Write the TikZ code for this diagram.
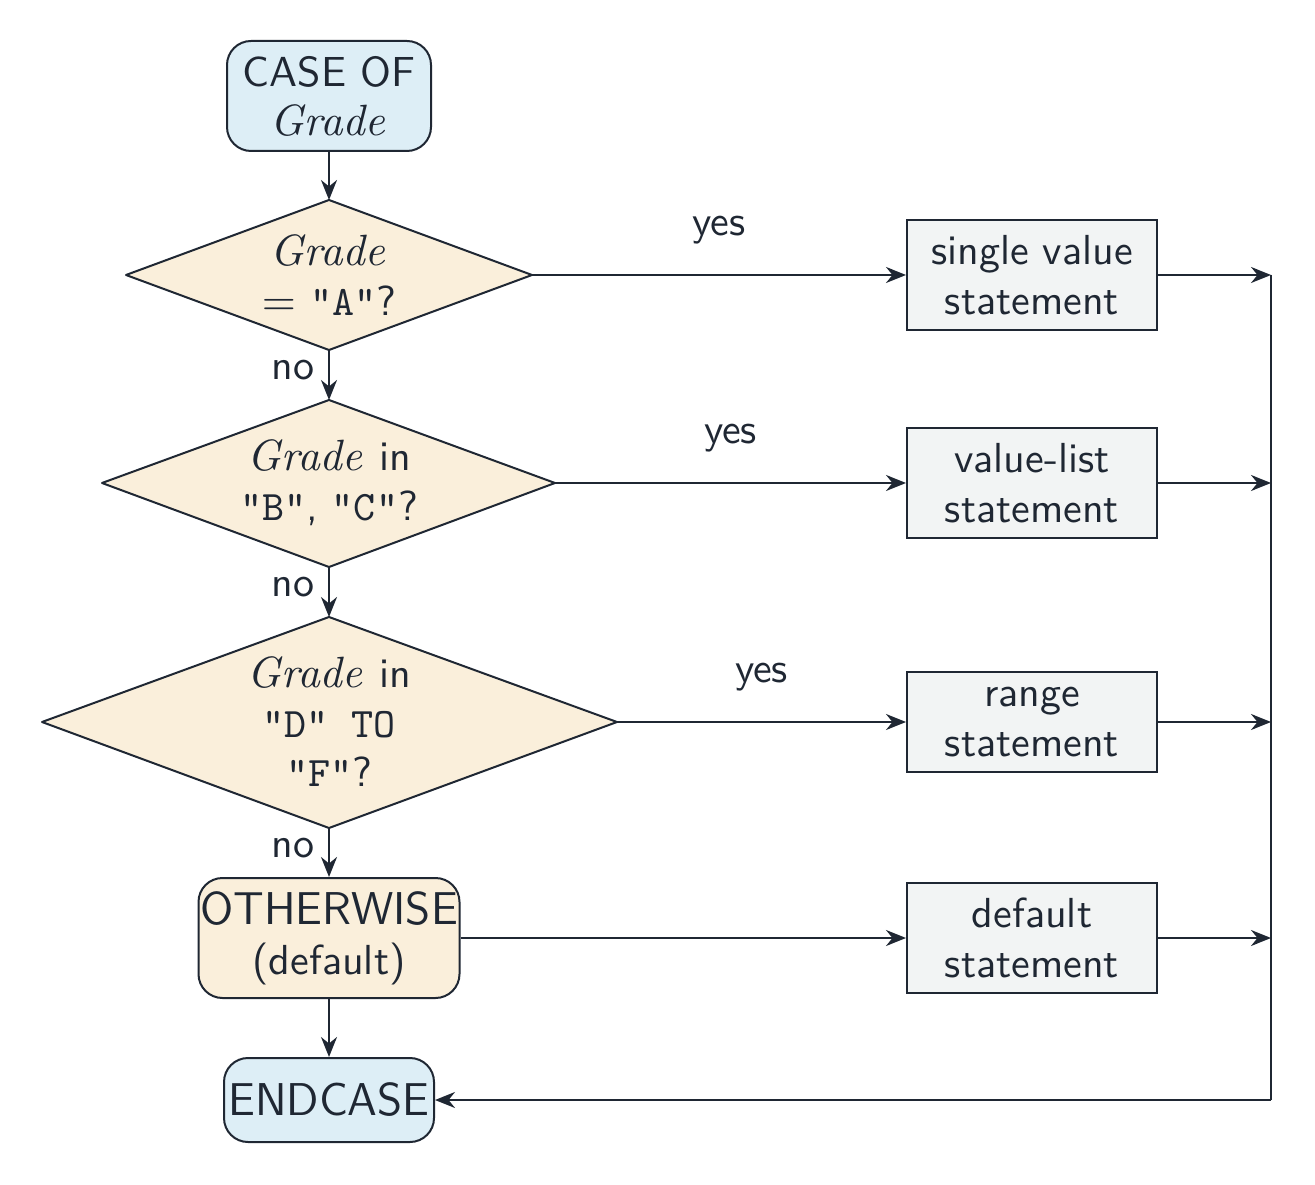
\documentclass[tikz,border=0pt]{standalone}
\usetikzlibrary{arrows.meta}
\definecolor{ink}{HTML}{1F2733}
\definecolor{bluef}{HTML}{DDEEF6}
\definecolor{tanf}{HTML}{FAEFDB}
\definecolor{grayf}{HTML}{F2F4F4}
\begin{document}
\begin{tikzpicture}[x=0.25pt,y=-0.25pt,
  every node/.style={font=\fontsize{10.5}{12.4}\selectfont\sffamily,text=ink,align=center},
  term/.style={draw=ink,line width=0.5pt,rounded corners=6pt,inner sep=0pt},
  stmt/.style={draw=ink,line width=0.5pt,fill=grayf,minimum width=62.5pt,inner sep=0pt},
  dia/.style={draw=ink,line width=0.5pt,fill=tanf,line join=round},
  arr/.style={draw=ink,line width=0.6pt,-{Stealth[length=5pt,width=4pt]}},
  ln/.style={draw=ink,line width=0.6pt}]
\useasboundingbox (0,0) rectangle (1315,1185);
% start
\node[term,fill=bluef,minimum width=51pt,minimum height=27.5pt] (start) at (329,96) {CASE OF\\$\mathit{Grade}$};
% diamonds
\coordinate (d1t) at (329,200); \coordinate (d1b) at (329,350); \coordinate (d1r) at (532,275);
\draw[dia] (126,275) -- (d1t) -- (d1r) -- (d1b) -- cycle;
\node (d1) at (329,275) {$\mathit{Grade}$\\$=$ \texttt{"A"}?};
\coordinate (d2t) at (329,400); \coordinate (d2b) at (329,567); \coordinate (d2r) at (555,483);
\draw[dia] (102,483) -- (d2t) -- (d2r) -- (d2b) -- cycle;
\node (d2) at (329,483) {$\mathit{Grade}$ in\\\texttt{"B"}, \texttt{"C"}?};
\coordinate (d3t) at (329,617); \coordinate (d3b) at (329,828); \coordinate (d3r) at (617,722);
\draw[dia] (42,722) -- (d3t) -- (d3r) -- (d3b) -- cycle;
\node (d3) at (329,722) {$\mathit{Grade}$ in\\\texttt{"D" TO}\\\texttt{"F"}?};
\node[term,fill=tanf,minimum width=65.25pt,minimum height=30pt] (oth) at (329,938) {\fontsize{11.5}{12.4}\selectfont OTHERWISE\\(default)};
\node[term,fill=bluef,minimum width=52.5pt,minimum height=21pt] (end) at (329,1100) {\fontsize{11.5}{12.4}\selectfont ENDCASE};
% statements
\node[stmt,minimum height=27.5pt] (s1) at (1032,275) {single value\\statement};
\node[stmt,minimum height=27.5pt] (s2) at (1032,483) {value-list\\statement};
\node[stmt,minimum height=25pt] (s3) at (1032,722) {range\\statement};
\node[stmt,minimum height=27.5pt] (s4) at (1032,938) {default\\statement};
% right bus
\coordinate (r1) at (1271,275); \coordinate (r2) at (1271,483);
\coordinate (r3) at (1271,722); \coordinate (r4) at (1271,938);
\coordinate (r5) at (1271,1100);
% vertical flow
\draw[arr] (start) -- (d1t);
\draw[arr] (d1b) -- node[left,pos=0.4] {no} (d2t);
\draw[arr] (d2b) -- node[left,pos=0.4] {no} (d3t);
\draw[arr] (d3b) -- node[left,pos=0.4] {no} (oth);
\draw[arr] (oth) -- (end);
% yes
\draw[arr] (d1r) -- node[above=4pt] {yes} (s1);
\draw[arr] (d2r) -- node[above=4pt] {yes} (s2);
\draw[arr] (d3r) -- node[above=4pt] {yes} (s3);
\draw[arr] (oth) -- (s4);
% to bus
\draw[arr] (s1) -- (r1);
\draw[arr] (s2) -- (r2);
\draw[arr] (s3) -- (r3);
\draw[arr] (s4) -- (r4);
\draw[ln] (r1) -- (r5);
\draw[arr] (r5) -- (end);
\end{tikzpicture}
\end{document}
